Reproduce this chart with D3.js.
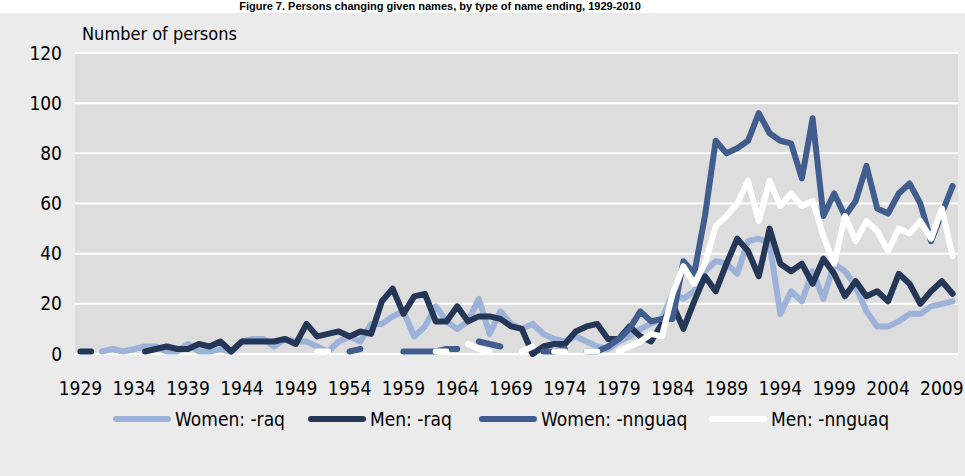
<!DOCTYPE html>
<html>
<head>
<meta charset="utf-8">
<script src="https://cdn.jsdelivr.net/npm/d3@7"></script>
<style>
  body { margin: 0; background: #ffffff; }
  svg { display: block; }
  text { font-family: 'Liberation Sans Narrow', 'DejaVu Sans Condensed', sans-serif; fill: #000; }
</style>
</head>
<body>
<div id="chart"></div>
<script>
const years = d3.range(1929, 2011)
const yTicks = [0, 20, 40, 60, 80, 100, 120]
const xTickYears = d3.range(1929, 2011, 5)

const womenRaq = [null, null, 1, 2, 1, 2, 3, 3, 1, 1, 4, 1, 1, 2, 1, 5, 6, 6, 3, 6,
    5, 5, 3, 1, 5, 7, 5, 12, 12, 15, 17, 7, 11, 19, 13, 10, 13, 22, 8, 17,
    12, 10, 12, 8, 6, 5, 7, 5, 3, 2, 5, 7, 10, 12, 14, 24, 22, 25, 33, 37,
    36, 32, 45, 46, 44, 16, 25, 21, 33, 22, 36, 33, 27, 17, 11, 11, 13, 16, 16, 19,
    20, 21]
const menRaq = [1, 1, null, null, null, null, 1, 2, 3, 2, 2, 4, 3, 5, 1, 5, 5, 5, 5, 6,
    4, 12, 7, 8, 9, 7, 9, 8, 21, 26, 16, 23, 24, 13, 13, 19, 13, 15, 15, 14,
    11, 10, 0, 3, 4, 4, 9, 11, 12, 6, 6, 11, 7, 5, 12, 20, 10, 21, 31, 25,
    36, 46, 41, 31, 50, 36, 33, 36, 28, 38, 32, 23, 29, 23, 25, 21, 32, 28, 20, 25,
    29, 24]
const womenNnguaq = [null, null, null, null, null, null, null, null, null, null, null, null, null, null, null, null, null, null, null, null,
    null, null, null, null, null, 1, 2, null, null, null, 1, 1, 1, 1, 2, 2, null, 5, 4, 3,
    null, null, null, 1, 1, 2, null, 1, 1, 3, 6, 10, 17, 13, 14, 14, 37, 32, 55, 85,
    80, 82, 85, 96, 88, 85, 84, 70, 94, 55, 64, 55, 61, 75, 58, 56, 64, 68, 60, 45,
    56, 67]
const menNnguaq = [null, null, null, null, null, null, null, null, null, null, null, null, null, null, null, null, null, null, null, null,
    null, null, 1, 1, null, null, null, null, null, null, null, null, null, 1, 1, null, 4, 2, 1, null,
    null, 1, 3, null, 1, 1, null, 1, 1, null, 1, 3, 5, 8, 7, 24, 35, 28, 36, 51,
    55, 60, 69, 53, 69, 59, 64, 59, 61, 47, 36, 55, 45, 53, 49, 41, 50, 48, 53, 46,
    58, 39]

const seriesNames = ['Women: -raq', 'Men: -raq', 'Women: -nnguaq', 'Men: -nnguaq']
const seriesValues = [womenRaq, menRaq, womenNnguaq, menNnguaq]
const colors = ['#9db2d8', '#253756', '#405d8e', '#ffffff']

const width = 965
const height = 476
const plot = { left: 75, right: 958, top: 53, bottom: 354 }

const svg = d3.select('#chart').append('svg').attr('width', width).attr('height', height)

// outer panel
svg.append('rect').attr('x', 0).attr('y', 13).attr('width', width).attr('height', height - 13).attr('fill', '#ebebeb')

// title in the white strip above the panel
svg.append('text').attr('x', 440).attr('y', 10).attr('text-anchor', 'middle')
    .style('font-family', 'Liberation Sans, Arial, sans-serif').style('font-weight', 'bold').attr('font-size', 11)
    .text('Figure 7. Persons changing given names, by type of name ending, 1929-2010')

svg.append('rect').attr('x', plot.left).attr('y', plot.top)
    .attr('width', plot.right - plot.left).attr('height', plot.bottom - plot.top).attr('fill', '#dddddd')

const xScale = d3.scaleBand().domain(years).range([plot.left, plot.right])
const yScale = d3.scaleLinear().domain([0, 120]).range([plot.bottom, plot.top])

// gridlines
svg.append('g').selectAll('line').data(yTicks).enter().append('line')
    .attr('x1', plot.left).attr('x2', plot.right)
    .attr('y1', (d) => yScale(d)).attr('y2', (d) => yScale(d))
    .attr('stroke', '#ffffff').attr('stroke-width', 2)

const yAxis = d3.axisLeft(yScale).tickValues(yTicks).tickSize(0).tickPadding(13)
const gy = svg.append('g').attr('transform', `translate(${plot.left},0)`).call(yAxis)
gy.select('.domain').remove()
gy.selectAll('text').attr('font-size', 19).style('font-family', null)

const xAxis = d3.axisBottom(xScale).tickValues(xTickYears).tickSize(0).tickPadding(28)
const gx = svg.append('g').attr('transform', `translate(0,${plot.bottom})`).call(xAxis)
gx.select('.domain').remove()
gx.selectAll('text').attr('font-size', 19).style('font-family', null)

svg.append('text').attr('x', 82).attr('y', 40).attr('font-size', 18).text('Number of persons')

const line = d3.line()
    .defined((d) => d.v != null)
    .x((d) => xScale(d.year) + xScale.bandwidth() / 2)
    .y((d) => yScale(d.v))

seriesValues.forEach((vals, i) => {
    const pts = years.map((year, j) => ({ year: year, v: vals[j] }))
    svg.append('path').datum(pts)
        .attr('d', line)
        .attr('fill', 'none')
        .attr('stroke', colors[i])
        .attr('stroke-width', 6)
        .attr('stroke-linejoin', 'round')
        .attr('stroke-linecap', 'round')
})

// legend
const legendX = [113, 308, 479, 709]
const legend = svg.append('g')
seriesNames.forEach((name, i) => {
    legend.append('line')
        .attr('x1', legendX[i] + 3).attr('x2', legendX[i] + 55)
        .attr('y1', 419).attr('y2', 419)
        .attr('stroke', colors[i]).attr('stroke-width', 6).attr('stroke-linecap', 'round')
    legend.append('text').attr('x', legendX[i] + 62).attr('y', 426).attr('font-size', 19).text(name)
})
</script>
</body>
</html>
